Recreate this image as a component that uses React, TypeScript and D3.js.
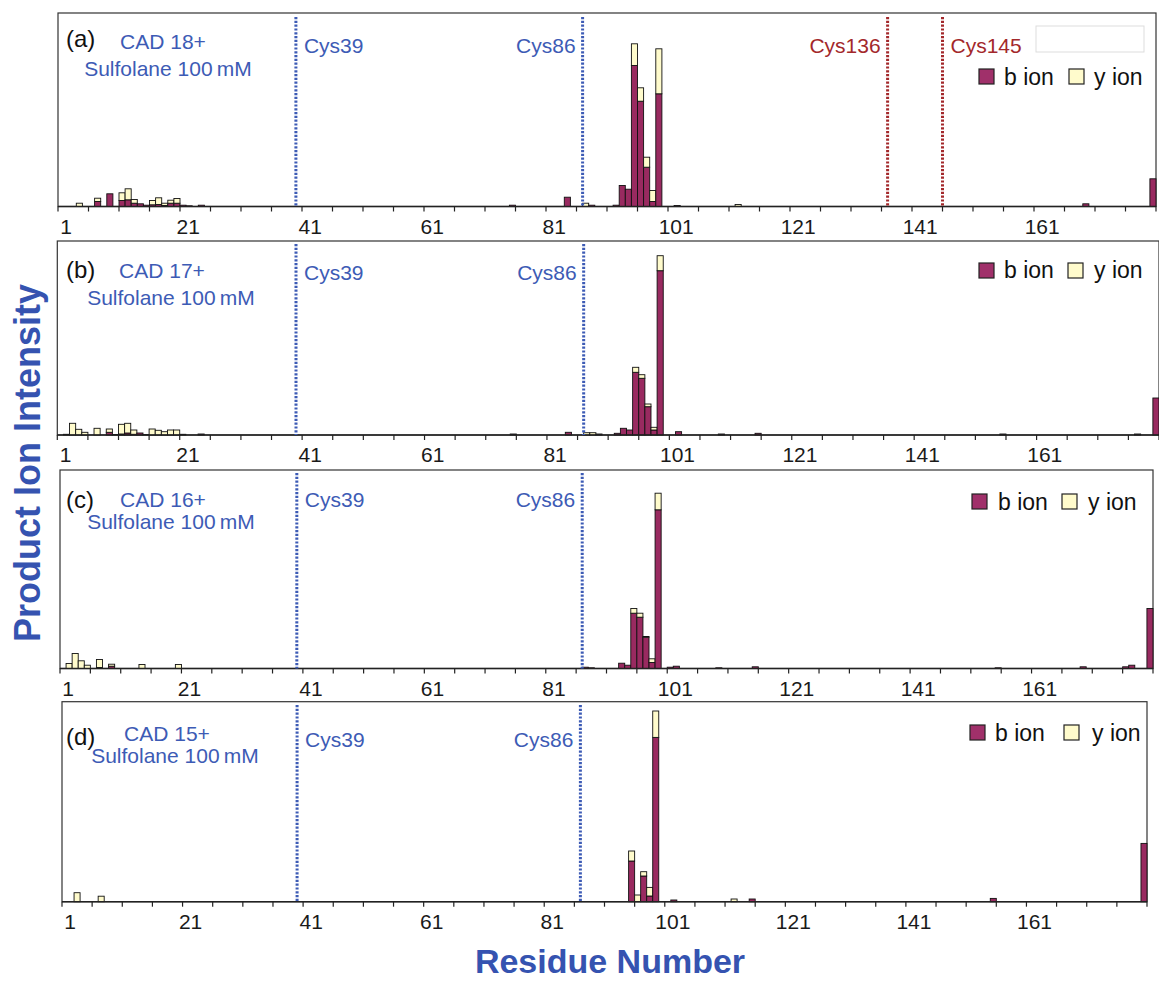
import React from 'react';
import * as d3 from 'd3';

// ---------- DATA (arbitrary intensity units) ----------
const categories = d3.range(0, 180);
const tickLabels = [1, 21, 41, 61, 81, 101, 121, 141, 161];

const resA = [3, 6, 8, 10, 11, 12, 13, 14, 15, 16, 17, 18, 19, 20, 21, 23, 74, 83, 86, 87, 91, 92, 93, 94, 95, 96, 97, 98, 101, 111, 168, 179];
const bIonA = [0, 5, 12.7, 6, 6.7, 3.3, 2.7, 1.3, 1.7, 2, 1, 3.3, 3.3, 1.3, 0.7, 1.3, 1.3, 9.3, 0, 1.3, 1.3, 21, 17.3, 141, 105.3, 39.3, 5, 112.7, 1, 0, 2.7, 27.7];
const yIonA = [3.3, 3.3, 0, 7.7, 11, 3.7, 0, 0, 4.3, 6.7, 2.3, 3, 4.7, 0, 0, 0, 0, 0, 3.3, 0, 0, 0, 0, 21.7, 13.4, 10, 11, 45, 0, 2, 0, 0];

const resB = [1, 2, 3, 4, 6, 8, 9, 10, 11, 12, 13, 14, 15, 16, 17, 18, 19, 20, 23, 74, 83, 86, 87, 88, 91, 92, 93, 94, 95, 96, 97, 98, 101, 108, 114, 154, 176, 179];
const bIonB = [0.7, 0, 0, 0, 0, 2.7, 0.5, 1, 2, 0.7, 2, 0.5, 0, 0, 0, 0, 0, 0.7, 1, 1, 2.7, 0, 0, 1, 1.7, 6.7, 5, 62.7, 56.7, 28.3, 5, 164.3, 3.3, 1, 1.7, 1, 1, 37];
const yIonB = [0, 11.7, 5.7, 2.7, 6.7, 3.3, 0, 9.7, 9.7, 4.3, 0, 0, 6, 4.7, 3.3, 5, 5, 0, 0, 0, 0, 2.3, 2.3, 0, 0, 0, 0, 5, 3.6, 2.7, 2.7, 15, 0, 0, 0, 0, 0, 0];

const resC = [1, 2, 3, 4, 6, 8, 13, 19, 86, 87, 92, 93, 94, 95, 96, 97, 98, 100, 101, 108, 114, 154, 168, 175, 176, 179];
const bIonC = [0, 0, 0, 0, 1, 2.3, 0, 0, 1.3, 0.7, 5.3, 3.3, 55.3, 51.3, 31.3, 6, 158.7, 1.3, 2.3, 0.7, 1.7, 0.7, 1.7, 1.7, 3.3, 60];
const yIonC = [5, 15, 7.7, 3.3, 8, 2, 4, 4, 0, 0, 0, 0, 4.7, 4, 0.7, 3.7, 16.6, 0, 0, 0, 0, 0, 0, 0, 0, 0];

const resD = [2, 6, 94, 95, 96, 97, 98, 101, 111, 114, 154, 179];
const bIonD = [0, 0, 40.7, 0, 25.7, 5.7, 164.3, 1.7, 0, 2.7, 3.3, 58.3];
const yIonD = [9, 5.5, 10, 6.7, 4.3, 8.6, 26.4, 0, 2.7, 0, 0, 0];

const chargeLabels = ['CAD 18+', 'CAD 17+', 'CAD 16+', 'CAD 15+'];
const panelTags = ['(a)', '(b)', '(c)', '(d)'];
const cysBlue = [39, 86];
const cysRed = [136, 145];

// ---------- STYLE / LAYOUT ----------
const FONT = '"Liberation Sans", Arial, sans-serif';
const BLUE = '#3d5bb5';
const RED = '#a3282b';
const MAGENTA = '#992a60';
const CREAM = '#fffbcc';

const layouts = [
  { L: 58, R: 1156, T: 13, B: 206.5, tagY: 47, cadX: 163, cadY: 49, sulX: 168, sulY: 76, cysY: 53, legSqY: 69, legTxtY: 85, legX: [979, 1004, 1069, 1094], lineTop: 17 },
  { L: 57.3, R: 1159, T: 241, B: 435, tagY: 278, cadX: 162, cadY: 278, sulX: 171, sulY: 305, cysY: 280, legSqY: 263, legTxtY: 278, legX: [979, 1004, 1068, 1094], lineTop: 244 },
  { L: 60, R: 1153, T: 470, B: 668.5, tagY: 508, cadX: 163, cadY: 507, sulX: 171, sulY: 529, cysY: 507, legSqY: 494, legTxtY: 510, legX: [972, 998, 1062, 1088], lineTop: 473 },
  { L: 62, R: 1147, T: 701.7, B: 901.7, tagY: 745, cadX: 167, cadY: 741, sulX: 175, sulY: 763, cysY: 747, legSqY: 725, legTxtY: 741, legX: [970, 995, 1064, 1092], lineTop: 705 },
];

const panelData = [
  { res: resA, b: bIonA, y: yIonA, red: true },
  { res: resB, b: bIonB, y: yIonB, red: false },
  { res: resC, b: bIonC, y: yIonC, red: false },
  { res: resD, b: bIonD, y: yIonD, red: false },
];

function Panel({ idx }: { idx: number }) {
  const lay = layouts[idx];
  const data = panelData[idx];
  const x = d3.scaleBand<number>().domain(categories).range([lay.L, lay.R]).padding(0);
  const bw = x.bandwidth();
  const yS = d3.scaleLinear().domain([0, lay.B - lay.T]).range([lay.B, lay.T]);
  const tickCats = categories.filter((c) => c % 5 === 0).concat([180]);
  const xEdge = (c: number) => lay.L + c * bw;

  return (
    <g>
      <rect x={lay.L} y={lay.T} width={lay.R - lay.L} height={lay.B - lay.T} fill="none" stroke="#333" strokeWidth={1.2} />
      {data.res.map((r, i) => {
        const bv = data.b[i];
        const yv = data.y[i];
        const x0 = x(r) as number;
        return (
          <g key={r}>
            {bv > 0 && (
              <rect x={x0} y={yS(bv)} width={bw} height={lay.B - yS(bv)} fill={MAGENTA} stroke="#111" strokeWidth={0.9} />
            )}
            {yv > 0 && (
              <rect x={x0} y={yS(bv + yv)} width={bw} height={yS(bv) - yS(bv + yv)} fill={CREAM} stroke="#111" strokeWidth={0.9} />
            )}
          </g>
        );
      })}
      <line x1={lay.L} x2={lay.R} y1={lay.B} y2={lay.B} stroke="#222" strokeWidth={1.5} />
      {tickCats.map((c) => (
        <line key={c} x1={xEdge(c)} x2={xEdge(c)} y1={lay.B} y2={lay.B + 5} stroke="#222" strokeWidth={1.2} />
      ))}
      {tickLabels.map((t) => (
        <text key={t} x={(x(t) as number) + bw / 2 - 1} y={lay.B + 27} textAnchor="middle" fontFamily={FONT} fontSize={21} fill="#1a1a1a">
          {t}
        </text>
      ))}
      {cysBlue.map((c) => (
        <line key={c} x1={xEdge(c)} x2={xEdge(c)} y1={lay.lineTop} y2={lay.B} stroke={BLUE} strokeWidth={3} strokeDasharray="2.2 1.6" />
      ))}
      {data.red && cysRed.map((c) => (
        <line key={c} x1={xEdge(c)} x2={xEdge(c)} y1={lay.lineTop} y2={lay.B} stroke={RED} strokeWidth={3} strokeDasharray="2.2 1.6" />
      ))}
      <text x={xEdge(39) + 8} y={lay.cysY} fontFamily={FONT} fontSize={21} fill={BLUE}>Cys39</text>
      <text x={xEdge(86) - 7} y={lay.cysY} textAnchor="end" fontFamily={FONT} fontSize={21} fill={BLUE}>Cys86</text>
      {data.red && (
        <>
          <text x={xEdge(136) - 7} y={lay.cysY} textAnchor="end" fontFamily={FONT} fontSize={21} fill={RED}>Cys136</text>
          <text x={xEdge(145) + 8} y={lay.cysY} fontFamily={FONT} fontSize={21} fill={RED}>Cys145</text>
          <rect x={1036} y={26} width={108} height={26} fill="white" stroke="#ddd" strokeWidth={1} />
        </>
      )}
      <text x={66} y={lay.tagY} fontFamily={FONT} fontSize={24} fill="#111">{panelTags[idx]}</text>
      <text x={lay.cadX} y={lay.cadY} textAnchor="middle" fontFamily={FONT} fontSize={21} fill={BLUE}>{chargeLabels[idx]}</text>
      <text x={lay.sulX} y={lay.sulY} textAnchor="middle" fontFamily={FONT} fontSize={21} fill={BLUE}>Sulfolane 100{'\u2009'}mM</text>
      <rect x={lay.legX[0]} y={lay.legSqY} width={15} height={15} fill="#a0306a" stroke="#222" strokeWidth={1.2} />
      <text x={lay.legX[1]} y={lay.legTxtY} fontFamily={FONT} fontSize={23} fill="#111">b ion</text>
      <rect x={lay.legX[2]} y={lay.legSqY} width={15} height={15} fill={CREAM} stroke="#222" strokeWidth={1.2} />
      <text x={lay.legX[3]} y={lay.legTxtY} fontFamily={FONT} fontSize={23} fill="#111">y ion</text>
    </g>
  );
}

export default function App() {
  return (
    <svg width={1159} height={981} style={{ position: 'absolute', left: 0, top: 0, display: 'block', background: 'white' }}>
      <rect x={0} y={0} width={1159} height={981} fill="white" />
      {layouts.map((_, i) => (
        <Panel key={i} idx={i} />
      ))}
      <text x={0} y={0} transform="translate(40,463) rotate(-90)" textAnchor="middle" fontFamily={FONT} fontWeight="bold" fontSize={36} fill="#3553b0">
        Product Ion Intensity
      </text>
      <text x={610} y={973} textAnchor="middle" fontFamily={FONT} fontWeight="bold" fontSize={34} fill="#3553b0">
        Residue Number
      </text>
    </svg>
  );
}
